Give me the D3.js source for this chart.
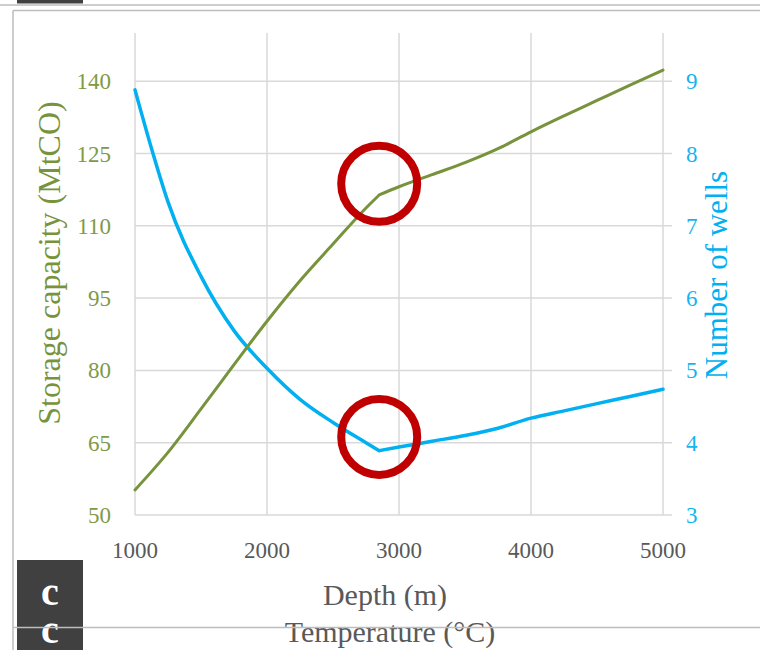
<!DOCTYPE html>
<html>
<head>
<meta charset="utf-8">
<script src="https://cdn.jsdelivr.net/npm/d3@7"></script>
<style>
  body { margin: 0; background: #fff; }
  svg { display: block; }
</style>
</head>
<body>
<div id="chart"></div>
<script>
// depth samples (m)
var depths = [1000, 1125, 1250, 1500, 1750, 2000, 2250, 2500, 2750, 2850, 3000, 3250, 3500, 3750, 4000, 4250, 4500, 4750, 5000];
// storage capacity (left axis)
var storage = [55.2, 59.0, 63.0, 72.0, 81.2, 90.2, 98.6, 106.2, 113.7, 116.4, 118.1, 120.6, 123.1, 126.0, 129.5, 132.8, 136.0, 139.2, 142.3];
// number of wells (right axis)
var wells = [8.88, 8.07, 7.33, 6.3, 5.55, 5.03, 4.6, 4.28, 4.0, 3.89, 3.94, 4.02, 4.1, 4.2, 4.34, 4.44, 4.54, 4.64, 4.74];
var breakDepth = 2850;

var xTicks = [1000, 2000, 3000, 4000, 5000];
var leftTicks = [50, 65, 80, 95, 110, 125, 140];
var rightTicks = [3, 4, 5, 6, 7, 8, 9];

// red rings marking the break (depth, storage) and (depth, wells)
var ringsLeft = [[2850, 118.7]];
var ringsRight = [[2850, 4.08]];

var W = 760, H = 650;
var plot = { left: 135, right: 663, top: 33, bottom: 515 };
var green = "#77933C", blue = "#00B0F0", grid = "#d9d9d9";
var font = "'Liberation Serif', 'Times New Roman', serif";

var svg = d3.select("#chart").append("svg")
    .attr("width", W)
    .attr("height", H);

var x = d3.scaleLinear().domain([1000, 5000]).range([plot.left, plot.right]);
var yL = d3.scaleLinear().domain([50, 150]).range([plot.bottom, plot.top]);
var yR = d3.scaleLinear().domain([3, 3 + 100 / 15]).range([plot.bottom, plot.top]);

// page frame bits
svg.append("rect").attr("x", 17).attr("y", 0).attr("width", 66).attr("height", 3.5).attr("fill", "#404040");
svg.append("line").attr("x1", 0).attr("x2", W).attr("y1", 5).attr("y2", 5).attr("stroke", "#bdbdbd").attr("stroke-width", 1.5);
svg.append("line").attr("x1", 13).attr("x2", W).attr("y1", 10.5).attr("y2", 10.5).attr("stroke", "#bdbdbd").attr("stroke-width", 1.5);
svg.append("line").attr("x1", 13).attr("x2", 13).attr("y1", 10.5).attr("y2", H).attr("stroke", "#bdbdbd").attr("stroke-width", 1.5);

// horizontal gridlines
svg.selectAll(".hgrid")
    .data(leftTicks)
    .enter().append("line")
    .attr("class", "hgrid")
    .attr("x1", plot.left).attr("x2", plot.right + 9)
    .attr("y1", function(d){ return yL(d); })
    .attr("y2", function(d){ return yL(d); })
    .attr("stroke", grid)
    .attr("stroke-width", 1.5);

// vertical gridlines incl. both axis lines
svg.selectAll(".vgrid")
    .data(xTicks)
    .enter().append("line")
    .attr("class", "vgrid")
    .attr("x1", function(d){ return x(d); })
    .attr("x2", function(d){ return x(d); })
    .attr("y1", plot.top).attr("y2", plot.bottom)
    .attr("stroke", grid)
    .attr("stroke-width", 1.5);

// tick labels
svg.selectAll(".ltick")
    .data(leftTicks)
    .enter().append("text")
    .text(function(d){ return d; })
    .attr("x", 111)
    .attr("y", function(d){ return yL(d) + 8; })
    .style("text-anchor", "end")
    .style("font-size", "23px")
    .style("font-family", font)
    .attr("fill", "#7f9a45");

svg.selectAll(".rtick")
    .data(rightTicks)
    .enter().append("text")
    .text(function(d){ return d; })
    .attr("x", 686)
    .attr("y", function(d){ return yR(d) + 8; })
    .style("text-anchor", "start")
    .style("font-size", "23px")
    .style("font-family", font)
    .attr("fill", "#14b4f0");

svg.selectAll(".xtick")
    .data(xTicks)
    .enter().append("text")
    .text(function(d){ return d; })
    .attr("x", function(d){ return x(d); })
    .attr("y", 558)
    .style("text-anchor", "middle")
    .style("font-size", "23px")
    .style("font-family", font)
    .attr("fill", "#595959");

// axis titles
svg.append("text")
    .text("Storage capacity (MtCO)")
    .attr("transform", "translate(60,263) rotate(-90)")
    .style("text-anchor", "middle")
    .style("font-size", "32px")
    .style("font-family", font)
    .attr("fill", green);

svg.append("text")
    .text("Number of wells")
    .attr("transform", "translate(727,275) rotate(-90)")
    .style("text-anchor", "middle")
    .style("font-size", "31px")
    .style("font-family", font)
    .attr("fill", blue);

svg.append("text")
    .text("Depth (m)")
    .attr("x", 385).attr("y", 605)
    .style("text-anchor", "middle")
    .style("font-size", "30px")
    .style("font-family", font)
    .attr("fill", "#595959");

svg.append("text")
    .text("Temperature (°C)")
    .attr("x", 390).attr("y", 642)
    .style("text-anchor", "middle")
    .style("font-size", "30px")
    .style("font-family", font)
    .attr("fill", "#595959");

// series lines: smooth on each side of the break, sharp corner at the break
function pieces(values){
    var pts = depths.map(function(d, i){ return [d, values[i]]; });
    return [pts.filter(function(p){ return p[0] <= breakDepth; }),
            pts.filter(function(p){ return p[0] >= breakDepth; })];
}
var lineL = d3.line().curve(d3.curveMonotoneX)
    .x(function(d){ return x(d[0]); })
    .y(function(d){ return yL(d[1]); });
var lineR = d3.line().curve(d3.curveMonotoneX)
    .x(function(d){ return x(d[0]); })
    .y(function(d){ return yR(d[1]); });

svg.append("path")
    .attr("d", pieces(wells).map(lineR).join(""))
    .attr("fill", "none")
    .attr("stroke", blue)
    .attr("stroke-width", 3.5)
    .attr("stroke-linejoin", "round")
    .attr("stroke-linecap", "round");

svg.append("path")
    .attr("d", pieces(storage).map(lineL).join(""))
    .attr("fill", "none")
    .attr("stroke", green)
    .attr("stroke-width", 3)
    .attr("stroke-linejoin", "round")
    .attr("stroke-linecap", "round");

// red rings
svg.selectAll(".ringL")
    .data(ringsLeft)
    .enter().append("circle")
    .attr("cx", function(d){ return x(d[0]); })
    .attr("cy", function(d){ return yL(d[1]); })
    .attr("r", 38)
    .attr("fill", "none")
    .attr("stroke", "#C00000")
    .attr("stroke-width", 8);

svg.selectAll(".ringR")
    .data(ringsRight)
    .enter().append("circle")
    .attr("cx", function(d){ return x(d[0]); })
    .attr("cy", function(d){ return yR(d[1]); })
    .attr("r", 38)
    .attr("fill", "none")
    .attr("stroke", "#C00000")
    .attr("stroke-width", 8);

// panel letter box at the bottom left
svg.append("rect").attr("x", 17).attr("y", 560).attr("width", 66).attr("height", 90).attr("fill", "#404040");
svg.append("text").text("c")
    .attr("x", 50).attr("y", 605)
    .style("text-anchor", "middle")
    .style("font-size", "40px")
    .style("font-weight", "bold")
    .style("font-family", font)
    .attr("fill", "#fff");
svg.append("text").text("c")
    .attr("x", 50).attr("y", 643)
    .style("text-anchor", "middle")
    .style("font-size", "40px")
    .style("font-weight", "bold")
    .style("font-family", font)
    .attr("fill", "#fff");

svg.append("line").attr("x1", 13).attr("x2", W).attr("y1", 627.5).attr("y2", 627.5).attr("stroke", "#bdbdbd").attr("stroke-width", 1.5);
</script>
</body>
</html>
